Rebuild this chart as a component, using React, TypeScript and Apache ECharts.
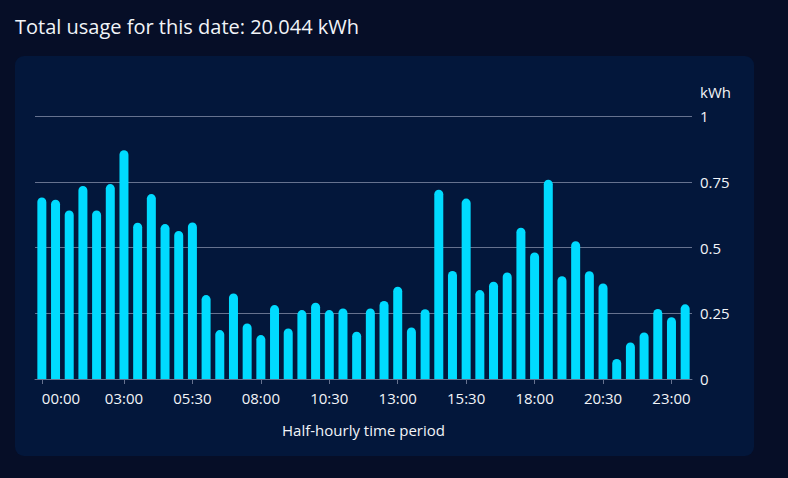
import React, { useEffect, useRef } from "react";
import * as echarts from "echarts";

const titleText = "Total usage for this date: 20.044 kWh";

const periods: string[] = [
  "00:00","00:30","01:00","01:30","02:00","02:30","03:00","03:30",
  "04:00","04:30","05:00","05:30","06:00","06:30","07:00","07:30",
  "08:00","08:30","09:00","09:30","10:00","10:30","11:00","11:30",
  "12:00","12:30","13:00","13:30","14:00","14:30","15:00","15:30",
  "16:00","16:30","17:00","17:30","18:00","18:30","19:00","19:30",
  "20:00","20:30","21:00","21:30","22:00","22:30","23:00","23:30",
];

const usage: number[] = [
  0.690, 0.682, 0.641, 0.734, 0.641, 0.741, 0.870, 0.594,
  0.703, 0.589, 0.563, 0.595, 0.319, 0.186, 0.325, 0.211,
  0.167, 0.281, 0.192, 0.262, 0.290, 0.262, 0.268, 0.180,
  0.268, 0.297, 0.351, 0.196, 0.265, 0.720, 0.411, 0.686,
  0.338, 0.370, 0.405, 0.575, 0.481, 0.758, 0.391, 0.524,
  0.410, 0.363, 0.076, 0.139, 0.177, 0.266, 0.235, 0.284,
];

const xTickLabels: string[] = [
  "00:00", "03:00", "05:30", "08:00", "10:30",
  "13:00", "15:30", "18:00", "20:30", "23:00",
];

const yTicks: number[] = [0, 0.25, 0.5, 0.75, 1];

const FONT = "'Open Sans', sans-serif";

export default function App() {
  const ref = useRef<HTMLDivElement>(null);
  useEffect(() => {
    if (!ref.current) return;
    const chart = echarts.init(ref.current, undefined, { renderer: "svg" });
    const showTick = (i: number) => xTickLabels.includes(periods[i]);
    chart.setOption({
      animation: false,
      backgroundColor: "#060e27",
      textStyle: { fontFamily: FONT },
      graphic: [
        {
          type: "rect",
          shape: { x: 15, y: 56, width: 739, height: 400, r: 9 },
          style: { fill: "#03173b" },
          z: -10,
        },
        {
          type: "text",
          x: 15,
          y: 26,
          style: {
            text: titleText,
            fill: "#f2f4f8",
            font: `20px ${FONT}`,
            textVerticalAlign: "middle",
          },
        },
      ],
      grid: { left: 35, right: 96, top: 116, bottom: 99, containLabel: false },
      xAxis: {
        type: "category",
        data: periods,
        boundaryGap: true,
        name: "Half-hourly time period",
        nameLocation: "middle",
        nameGap: 43,
        nameTextStyle: { color: "#f2f4f8", fontSize: 15, fontFamily: FONT },
        axisLine: { show: true, lineStyle: { color: "#66728f", width: 1 } },
        axisTick: {
          show: true,
          alignWithLabel: true,
          interval: (i: number) => showTick(i),
          length: 5,
          lineStyle: { color: "#66728f" },
        },
        axisLabel: {
          interval: (i: number) => showTick(i),
          color: "#f2f4f8",
          fontSize: 15,
          fontFamily: FONT,
          alignMinLabel: "left",
          margin: 11,
        },
        splitLine: { show: false },
      },
      yAxis: {
        type: "value",
        position: "right",
        min: yTicks[0],
        max: yTicks[yTicks.length - 1],
        interval: 0.25,
        name: "kWh",
        nameLocation: "end",
        nameGap: 17,
        nameTextStyle: { color: "#f2f4f8", fontSize: 15, fontFamily: FONT, align: "left", padding: [0, 0, 0, 8] },
        axisLine: { show: false },
        axisTick: { show: false },
        axisLabel: { color: "#f2f4f8", fontSize: 15, fontFamily: FONT, margin: 8 },
        splitLine: { show: true, lineStyle: { color: "#66728f", width: 1 } },
      },
      series: [
        {
          type: "bar",
          data: usage,
          barWidth: 9,
          itemStyle: { color: "#00dbff", borderRadius: [5, 5, 0, 0] },
          z: 1,
        },
      ],
    });
    return () => chart.dispose();
  }, []);
  return (
    <div
      ref={ref}
      style={{ position: "fixed", left: 0, top: 0, width: 788, height: 478 }}
    />
  );
}
